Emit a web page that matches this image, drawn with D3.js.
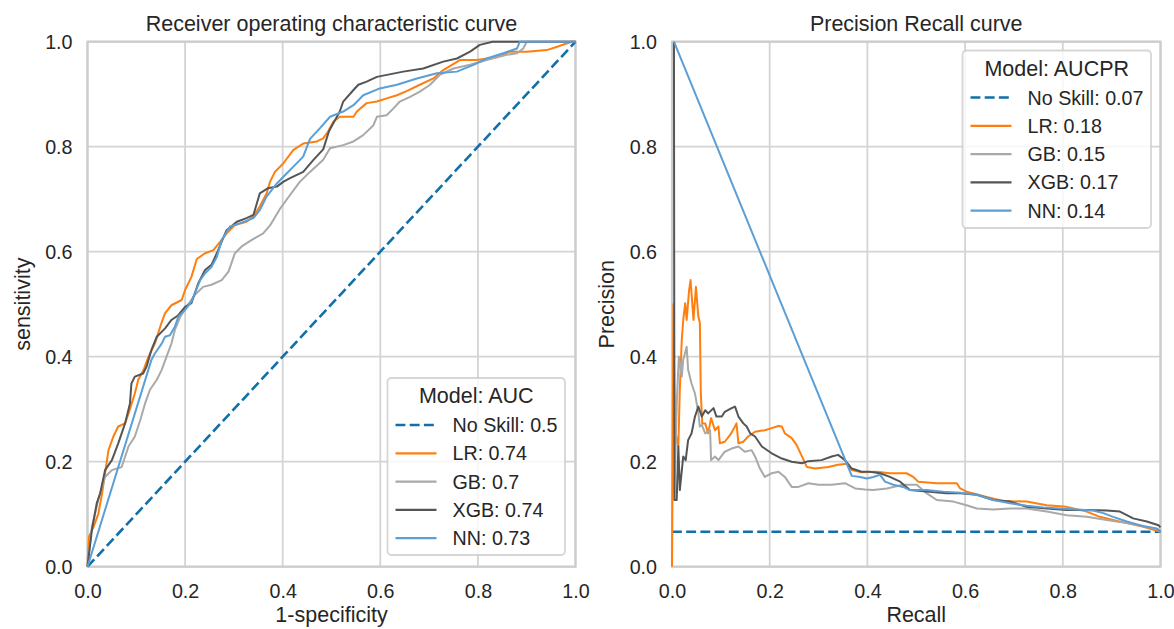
<!DOCTYPE html>
<html>
<head>
<meta charset="utf-8">
<script src="https://cdn.jsdelivr.net/npm/d3@7"></script>
<style>
  body { margin: 0; background: #fff; }
  svg { display: block; }
  text { font-family: "Liberation Sans", Arial, sans-serif; fill: #262626; }
</style>
</head>
<body>
<svg id="chart" width="1174" height="629"></svg>
<script>
// ---- data -------------------------------------------------------------
const models = ["LR", "GB", "XGB", "NN"];
const rocAUC = [0.74, 0.70, 0.74, 0.73];
const prAUC = [0.18, 0.15, 0.17, 0.14];
const noSkillRocAUC = 0.5;
const noSkillPrecision = 0.0667;   // positive class share
const tickValues = [0, 0.2, 0.4, 0.6, 0.8, 1.0];

// ROC curves: [false positive rate, true positive rate]
const rocNoSkill = [[0, 0], [1, 1]];
const rocLR = [[0,0],[0.003,0.057],[0.012,0.075],[0.022,0.10],[0.03,0.14],[0.036,0.178],[0.043,0.222],[0.053,0.248],[0.063,0.267],[0.077,0.273],[0.087,0.30],[0.097,0.330],[0.104,0.356],[0.115,0.375],[0.125,0.40],[0.138,0.425],[0.15,0.46],[0.159,0.483],[0.172,0.498],[0.193,0.508],[0.2,0.527],[0.213,0.552],[0.224,0.586],[0.241,0.597],[0.258,0.603],[0.272,0.619],[0.285,0.635],[0.302,0.651],[0.326,0.657],[0.34,0.667],[0.353,0.686],[0.367,0.711],[0.374,0.733],[0.384,0.752],[0.401,0.768],[0.422,0.794],[0.442,0.806],[0.470,0.81],[0.483,0.816],[0.493,0.829],[0.504,0.848],[0.517,0.857],[0.545,0.857],[0.552,0.867],[0.572,0.883],[0.593,0.886],[0.613,0.892],[0.634,0.898],[0.654,0.906],[0.681,0.918],[0.709,0.930],[0.729,0.946],[0.763,0.965],[0.798,0.965],[0.839,0.971],[0.866,0.981],[0.900,0.981],[0.941,0.984],[0.961,0.99],[0.992,1.0],[1,1]];
const rocGB = [[0,0],[0.009,0.076],[0.022,0.127],[0.036,0.171],[0.05,0.184],[0.07,0.19],[0.084,0.229],[0.097,0.248],[0.108,0.279],[0.118,0.311],[0.128,0.337],[0.142,0.356],[0.152,0.375],[0.162,0.40],[0.172,0.425],[0.179,0.451],[0.190,0.476],[0.203,0.495],[0.220,0.518],[0.237,0.533],[0.254,0.537],[0.275,0.546],[0.289,0.562],[0.302,0.597],[0.316,0.61],[0.336,0.622],[0.36,0.635],[0.374,0.65],[0.394,0.681],[0.415,0.708],[0.435,0.733],[0.456,0.752],[0.483,0.775],[0.497,0.797],[0.524,0.803],[0.545,0.81],[0.565,0.822],[0.586,0.841],[0.593,0.857],[0.613,0.860],[0.627,0.873],[0.640,0.886],[0.661,0.895],[0.681,0.905],[0.702,0.918],[0.722,0.937],[0.75,0.949],[0.784,0.956],[0.818,0.965],[0.859,0.975],[0.880,0.978],[0.893,0.987],[0.900,1.0],[1,1]];
const rocXGB = [[0,0],[0.009,0.07],[0.019,0.121],[0.026,0.14],[0.036,0.184],[0.05,0.203],[0.063,0.235],[0.077,0.273],[0.087,0.311],[0.09,0.349],[0.097,0.362],[0.114,0.368],[0.121,0.381],[0.131,0.413],[0.142,0.438],[0.159,0.454],[0.172,0.47],[0.186,0.479],[0.2,0.495],[0.213,0.502],[0.227,0.54],[0.241,0.565],[0.254,0.575],[0.265,0.597],[0.275,0.619],[0.285,0.641],[0.306,0.657],[0.326,0.664],[0.34,0.67],[0.353,0.711],[0.37,0.721],[0.388,0.724],[0.401,0.733],[0.415,0.74],[0.442,0.752],[0.463,0.775],[0.483,0.795],[0.495,0.83],[0.517,0.867],[0.524,0.886],[0.545,0.908],[0.555,0.918],[0.572,0.924],[0.593,0.933],[0.647,0.943],[0.688,0.949],[0.729,0.962],[0.757,0.968],[0.784,0.981],[0.804,0.994],[0.83,1.0],[1,1]];
const rocNN = [[0,0],[0.131,0.394],[0.138,0.406],[0.152,0.425],[0.159,0.438],[0.169,0.441],[0.179,0.457],[0.186,0.476],[0.2,0.489],[0.213,0.505],[0.22,0.521],[0.231,0.546],[0.241,0.559],[0.254,0.571],[0.265,0.59],[0.275,0.622],[0.292,0.648],[0.312,0.654],[0.34,0.664],[0.353,0.679],[0.367,0.705],[0.388,0.73],[0.408,0.749],[0.422,0.762],[0.442,0.781],[0.456,0.815],[0.476,0.835],[0.497,0.857],[0.524,0.867],[0.545,0.879],[0.565,0.898],[0.599,0.911],[0.634,0.918],[0.675,0.930],[0.716,0.940],[0.757,0.943],[0.791,0.956],[0.818,0.968],[0.852,0.978],[0.880,0.987],[0.886,1.0],[1,1]];

// Precision-recall curves: [recall, precision]
const prLR = [[0,0],[0.003,0.50],[0.006,0.26],[0.013,0.229],[0.016,0.337],[0.02,0.432],[0.023,0.47],[0.027,0.502],[0.03,0.47],[0.035,0.527],[0.038,0.546],[0.042,0.495],[0.044,0.47],[0.049,0.533],[0.054,0.476],[0.057,0.464],[0.059,0.33],[0.062,0.273],[0.068,0.273],[0.074,0.254],[0.08,0.283],[0.088,0.26],[0.095,0.267],[0.098,0.235],[0.108,0.238],[0.119,0.251],[0.129,0.267],[0.132,0.273],[0.136,0.235],[0.146,0.238],[0.156,0.248],[0.170,0.257],[0.19,0.26],[0.204,0.264],[0.218,0.268],[0.225,0.267],[0.231,0.254],[0.245,0.245],[0.255,0.232],[0.266,0.21],[0.276,0.19],[0.293,0.187],[0.32,0.19],[0.34,0.194],[0.358,0.196],[0.368,0.184],[0.388,0.18],[0.419,0.181],[0.446,0.178],[0.480,0.178],[0.494,0.171],[0.504,0.162],[0.542,0.159],[0.583,0.159],[0.59,0.149],[0.603,0.143],[0.644,0.133],[0.678,0.125],[0.726,0.124],[0.767,0.117],[0.808,0.114],[0.849,0.105],[0.876,0.095],[0.903,0.089],[0.931,0.083],[0.965,0.076],[1.0,0.0667]];
const prGB = [[0.005,0.14],[0.010,0.318],[0.014,0.40],[0.02,0.362],[0.023,0.394],[0.03,0.419],[0.033,0.375],[0.04,0.349],[0.047,0.33],[0.054,0.292],[0.057,0.267],[0.061,0.27],[0.068,0.254],[0.078,0.26],[0.08,0.203],[0.088,0.21],[0.095,0.203],[0.108,0.219],[0.122,0.225],[0.136,0.229],[0.149,0.219],[0.163,0.222],[0.170,0.21],[0.18,0.187],[0.19,0.171],[0.204,0.178],[0.218,0.181],[0.231,0.171],[0.245,0.152],[0.259,0.152],[0.279,0.159],[0.3,0.156],[0.327,0.156],[0.354,0.159],[0.375,0.149],[0.395,0.147],[0.412,0.146],[0.44,0.149],[0.473,0.156],[0.501,0.156],[0.521,0.14],[0.542,0.127],[0.576,0.124],[0.603,0.117],[0.624,0.111],[0.658,0.109],[0.692,0.111],[0.726,0.111],[0.767,0.105],[0.808,0.098],[0.849,0.095],[0.890,0.089],[0.931,0.083],[0.972,0.076],[1.0,0.07]];
const prXGB = [[0.004,1.0],[0.005,0.127],[0.0096,0.127],[0.013,0.229],[0.016,0.146],[0.023,0.21],[0.028,0.203],[0.033,0.241],[0.04,0.254],[0.047,0.286],[0.054,0.305],[0.061,0.286],[0.068,0.298],[0.074,0.292],[0.085,0.302],[0.091,0.286],[0.102,0.286],[0.108,0.295],[0.122,0.302],[0.129,0.305],[0.136,0.286],[0.146,0.273],[0.153,0.267],[0.16,0.254],[0.17,0.248],[0.184,0.229],[0.204,0.216],[0.225,0.206],[0.245,0.2],[0.266,0.197],[0.279,0.201],[0.306,0.203],[0.327,0.21],[0.340,0.213],[0.354,0.203],[0.368,0.187],[0.388,0.181],[0.405,0.181],[0.426,0.178],[0.446,0.171],[0.467,0.162],[0.487,0.146],[0.521,0.143],[0.562,0.14],[0.59,0.14],[0.624,0.137],[0.658,0.127],[0.692,0.124],[0.726,0.114],[0.767,0.111],[0.808,0.108],[0.849,0.108],[0.890,0.107],[0.917,0.105],[0.944,0.092],[0.972,0.086],[0.996,0.079],[1.0,0.075]];
const prNN = [[0.004,1.0],[0.368,0.173],[0.385,0.171],[0.399,0.168],[0.412,0.171],[0.426,0.175],[0.436,0.162],[0.453,0.156],[0.473,0.152],[0.487,0.146],[0.521,0.146],[0.555,0.143],[0.59,0.141],[0.624,0.137],[0.658,0.127],[0.692,0.121],[0.726,0.116],[0.760,0.113],[0.794,0.111],[0.828,0.109],[0.862,0.107],[0.883,0.102],[0.903,0.095],[0.931,0.086],[0.965,0.077],[0.992,0.073],[1.0,0.0667]];

// ---- styling ----------------------------------------------------------
const noSkillColor = "#1170aa";
const modelColors = ["#ff7f0e", "#a9a9a9", "#555555", "#5b9fd6"];
const gridColor = "#d4d4d4";
const fmt = v => String(+v.toFixed(2));   // 0.50 -> "0.5", 0.0667 -> "0.07"

const svg = d3.select("#chart");

function panel(opts) {
  const x = d3.scaleLinear().domain([0, 1]).range([opts.left, opts.right]);
  const y = d3.scaleLinear().domain([0, 1]).range([opts.bottom, opts.top]);
  const g = svg.append("g");

  // grid
  g.append("g").selectAll("line").data(tickValues).join("line")
    .attr("x1", d => x(d)).attr("x2", d => x(d))
    .attr("y1", opts.top).attr("y2", opts.bottom)
    .attr("stroke", gridColor).attr("stroke-width", 1.8);
  g.append("g").selectAll("line").data(tickValues).join("line")
    .attr("y1", d => y(d)).attr("y2", d => y(d))
    .attr("x1", opts.left).attr("x2", opts.right)
    .attr("stroke", gridColor).attr("stroke-width", 1.8);

  // frame
  g.append("rect")
    .attr("x", opts.left).attr("y", opts.top)
    .attr("width", opts.right - opts.left).attr("height", opts.bottom - opts.top)
    .attr("fill", "none").attr("stroke", "#cccccc").attr("stroke-width", 2.2);

  // axes (labels only)
  const xAxis = d3.axisBottom(x).tickValues(tickValues).tickFormat(d3.format(".1f")).tickSize(0).tickPadding(17);
  const yAxis = d3.axisLeft(y).tickValues(tickValues).tickFormat(d3.format(".1f")).tickSize(0).tickPadding(15);
  const gx = g.append("g").attr("transform", `translate(0,${opts.bottom})`).call(xAxis);
  const gy = g.append("g").attr("transform", `translate(${opts.left},0)`).call(yAxis);
  [gx, gy].forEach(a => {
    a.select(".domain").remove();
    a.selectAll("text").attr("font-size", 19.7).attr("fill", "#262626")
      .style("font-family", '"Liberation Sans", Arial, sans-serif');
  });

  // curves
  const line = d3.line().x(d => x(d[0])).y(d => y(d[1]));
  g.append("path").datum(opts.noSkill)
    .attr("d", line).attr("fill", "none")
    .attr("stroke", noSkillColor).attr("stroke-width", 2.6)
    .attr("stroke-dasharray", "9.9,4.3");
  opts.series.forEach((s, i) => {
    g.append("path").datum(s)
      .attr("d", line).attr("fill", "none")
      .attr("stroke", modelColors[i]).attr("stroke-width", 2)
      .attr("stroke-linejoin", "round");
  });

  // titles
  const cx = (opts.left + opts.right) / 2;
  g.append("text").attr("x", cx).attr("y", opts.top - 10.5)
    .attr("text-anchor", "middle").attr("font-size", 21.5).text(opts.title);
  g.append("text").attr("x", cx).attr("y", opts.bottom + 55)
    .attr("text-anchor", "middle").attr("font-size", 21.5).text(opts.xLabel);
  g.append("text")
    .attr("transform", `translate(${opts.left - 58},${(opts.top + opts.bottom) / 2}) rotate(-90)`)
    .attr("text-anchor", "middle").attr("font-size", 21.5).text(opts.yLabel);

  // legend
  const L = opts.legend;
  const lg = g.append("g");
  lg.append("rect").attr("x", L.x).attr("y", L.y).attr("width", L.w).attr("height", L.h)
    .attr("rx", 4).attr("fill", "#ffffff").attr("fill-opacity", 0.8)
    .attr("stroke", "#cccccc").attr("stroke-opacity", 0.8).attr("stroke-width", 1.8);
  lg.append("text").attr("x", L.x + L.w / 2).attr("y", L.y + 25)
    .attr("text-anchor", "middle").attr("font-size", 21.5).text(L.title);
  const entries = [{ label: "No Skill: " + fmt(opts.noSkillValue), color: noSkillColor, dash: true }]
    .concat(models.map((m, i) => ({ label: m + ": " + fmt(opts.values[i]), color: modelColors[i], dash: false })));
  entries.forEach((e, i) => {
    const cy = L.y + 47 + i * 28.3;
    lg.append("line").attr("x1", L.x + 8).attr("x2", L.x + 49).attr("y1", cy).attr("y2", cy)
      .attr("stroke", e.color).attr("stroke-width", e.dash ? 2.6 : 2.2)
      .attr("stroke-dasharray", e.dash ? "9.9,4.3" : null);
    lg.append("text").attr("x", L.x + 65).attr("y", cy + 7)
      .attr("font-size", 19.7).text(e.label);
  });
}

panel({
  left: 87.5, right: 575.5, top: 41.7, bottom: 566.7,
  title: "Receiver operating characteristic curve",
  xLabel: "1-specificity", yLabel: "sensitivity",
  noSkill: rocNoSkill, noSkillValue: noSkillRocAUC,
  series: [rocLR, rocGB, rocXGB, rocNN], values: rocAUC,
  legend: { x: 387.5, y: 378, w: 177.5, h: 177, title: "Model: AUC" }
});

panel({
  left: 672, right: 1160.5, top: 41.7, bottom: 566.7,
  title: "Precision Recall curve",
  xLabel: "Recall", yLabel: "Precision",
  noSkill: [[0, noSkillPrecision], [1, noSkillPrecision]], noSkillValue: noSkillPrecision,
  series: [prLR, prGB, prXGB, prNN], values: prAUC,
  legend: { x: 962.5, y: 50.5, w: 188.5, h: 177.5, title: "Model: AUCPR" }
});
</script>
</body>
</html>
